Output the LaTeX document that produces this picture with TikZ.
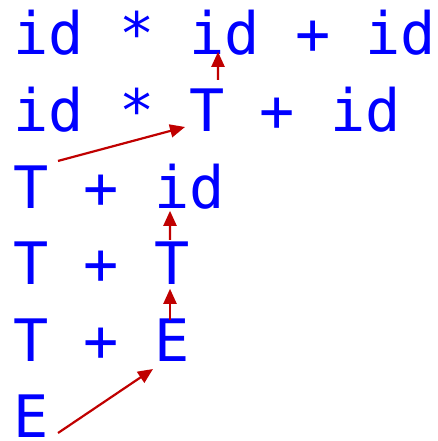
\documentclass[tikz,border=0pt]{standalone}
\usepackage{fontspec}
\newfontfamily\codefont{DejaVu Sans Mono}
\usetikzlibrary{arrows.meta}
\definecolor{tokblue}{RGB}{0,0,255}
\definecolor{arrred}{RGB}{192,0,0}
\begin{document}
\begin{tikzpicture}[x=1pt,y=1pt,
  tok/.style={anchor=base west,inner sep=0pt,outer sep=0pt,text=tokblue,font=\codefont\fontsize{58.5}{70}\selectfont},
  arr/.style={draw=arrred,line width=2.2pt,-{Triangle[length=15pt,width=13pt]},fill=arrred}]
\useasboundingbox (0,0) rectangle (438,441);
\def\cw{35.2}
\def\xo{13.4}
% line 1
\node[tok] (a1) at (\xo+0*\cw,386) {id};
\node[tok] (a2) at (\xo+3*\cw,386) {*};
\node[tok] (a3) at (\xo+5*\cw,386) {id};
\node[tok] (a4) at (\xo+8*\cw,386) {+};
\node[tok] (a5) at (\xo+10*\cw,386) {id};
% line 2
\node[tok] (b1) at (\xo+0*\cw,309.4) {id};
\node[tok] (b2) at (\xo+3*\cw,309.4) {*};
\node[tok] (b3) at (\xo+5*\cw,309.4) {T};
\node[tok] (b4) at (\xo+7*\cw,309.4) {+};
\node[tok] (b5) at (\xo+9*\cw,309.4) {id};
% line 3
\node[tok] (c1) at (\xo+0*\cw,232.8) {T};
\node[tok] (c2) at (\xo+2*\cw,232.8) {+};
\node[tok] (c3) at (\xo+4*\cw,232.8) {id};
% line 4
\node[tok] (d1) at (\xo+0*\cw,156.2) {T};
\node[tok] (d2) at (\xo+2*\cw,156.2) {+};
\node[tok] (d3) at (\xo+4*\cw,156.2) {T};
% line 5
\node[tok] (e1) at (\xo+0*\cw,79.6) {T};
\node[tok] (e2) at (\xo+2*\cw,79.6) {+};
\node[tok] (e3) at (\xo+4*\cw,79.6) {E};
% line 6
\node[tok] (f1) at (\xo+0*\cw,3) {E};
% arrows
\draw[arr] ([shift={(11,9)}]b3.north) -- ([shift={(-6.6,4)}]a3.south);
\draw[arr] ([shift={(9.4,4.6)}]c1.north east) -- ([shift={(-4.4,4.6)}]b3.base west);
\draw[arr] ([shift={(-1.8,2.2)}]d3.north) -- ([shift={(15.8,-1.8)}]c3.south west);
\draw[arr] ([shift={(-1.8,-1)}]e3.north) -- ([shift={(-1.8,-4)}]d3.south);
\draw[arr] ([shift={(9.4,5)}]f1.base east) -- ([shift={(-1.2,-7.6)}]e3.base west);
\end{tikzpicture}
\end{document}
